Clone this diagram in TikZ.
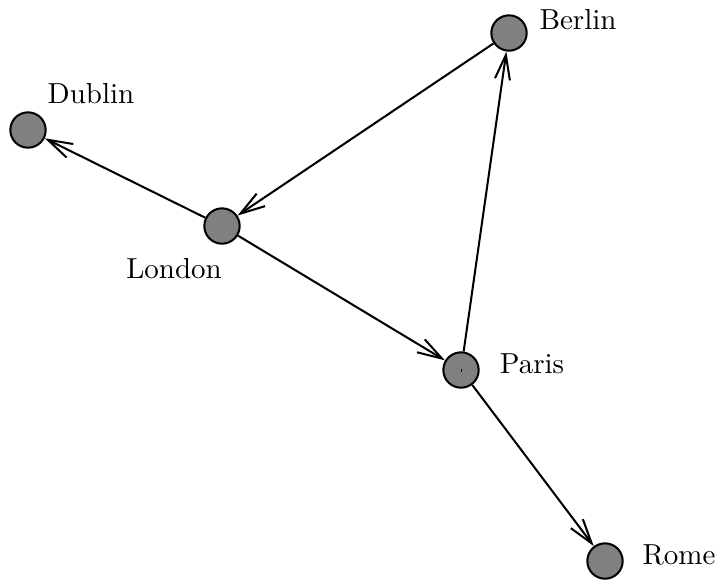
\documentclass[tikz,border=0pt]{standalone}
\usetikzlibrary{arrows.meta}
\begin{document}
\begin{tikzpicture}[x=0.345pt,y=-0.345pt,
  city/.style={circle,draw=black,fill=black!50,line width=0.7pt,minimum size=12.2pt,inner sep=0pt},
  road/.style={line width=0.7pt,-{Straight Barb[length=8.5pt,width=5.2pt,line width=0.7pt]}},
  lbl/.style={font=\normalsize,inner sep=0pt}]
  \useasboundingbox (0,0) rectangle (715,581);
  \node[city] (berlin) at (509,33) {};
  \node[city] (dublin) at (28,130) {};
  \node[city] (london) at (222,226) {};
  \node[city] (paris)  at (461,370) {};
  \node[city] (rome)   at (605,561) {};
  \node[lbl] (tberlin) at (578,20)  {Berlin};
  \node[lbl] (tdublin) at (91,94)   {Dublin};
  \node[lbl] (tlondon) at (174,269) {London};
  \node[lbl] (tparis)  at (532,364) {Paris};
  \node[lbl] (trome)   at (679,555) {Rome};
  \draw[line width=0.35pt] ([yshift=-1.5*0.345pt]paris.center) -- ([yshift=1.5*0.345pt]paris.center);
  \draw[road] (london) -- (dublin);
  \draw[road] (berlin) -- (london);
  \draw[road] (london) -- (paris);
  \draw[road] (paris) -- (berlin);
  \draw[road] (paris) -- (rome);
\end{tikzpicture}
\end{document}
